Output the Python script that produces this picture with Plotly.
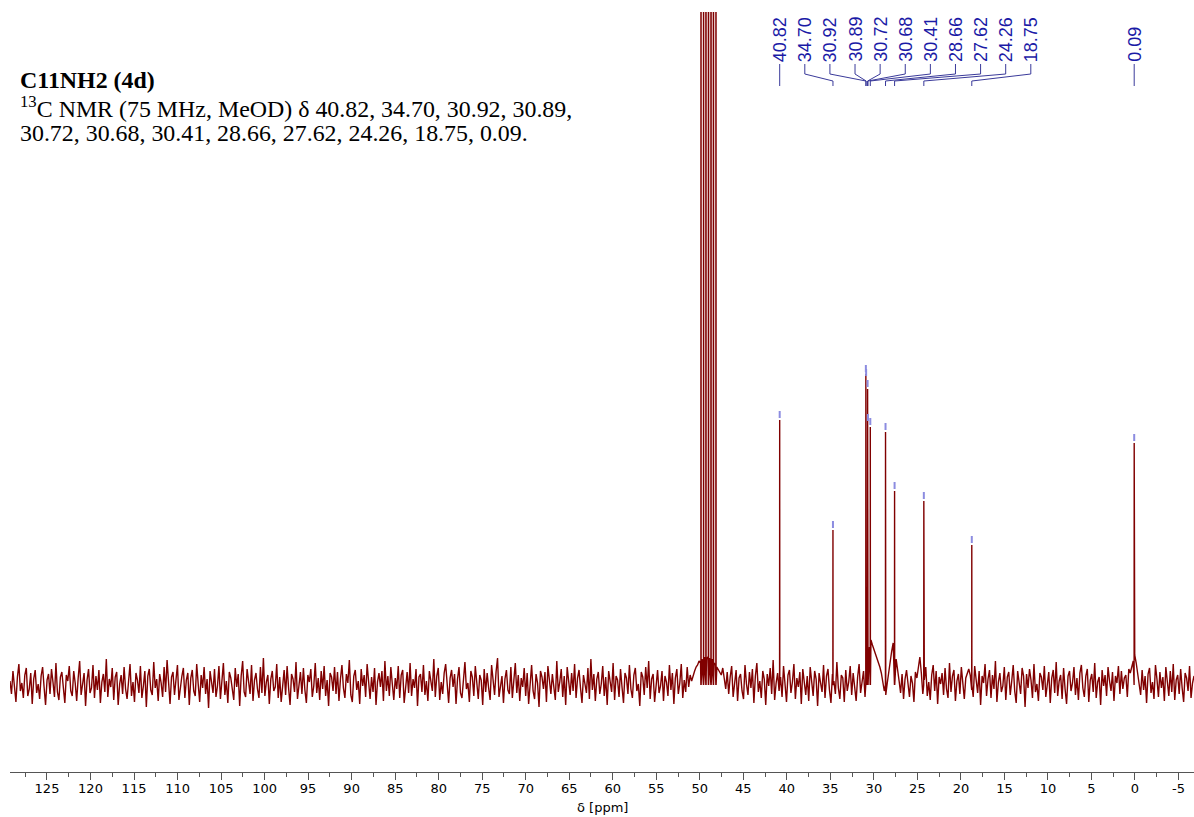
import numpy as np
import plotly.graph_objects as go

# ---------------- data ----------------
# hand-estimated baseline noise (intensity units, baseline = 0), read along the spectrum left->right
noise_vals = [
    4, -9, 14, -3, -17, 8, 21, -6, 2, -13, 10, 17, -11, -4, 12, -19, 6, 15, -8, 1,
    -14, 9, 18, -2, -20, 5, 11, -9, 16, 3, -12, 22, -7, -15, 8, 13, -3, -18, 10, 4,
    19, -6, -11, 14, 2, -16, 7, 24, -10, 0, 12, -21, 5, 16, -8, -3, 20, -13, 9, -5,
    15, -18, 3, 11, -7, 26, -12, 6, -2, 17, -15, 8, 13, -20, 1, 10, -9, 18, -4, -14,
    7, 21, -11, 3, -17, 12, 5, -8, 19, -13, -1, 14, -22, 9, 16, -5, -10, 23, -3, 6,
    -16, 11, 2, -12, 18, -7, 25, -4, -19, 8, 13, -10, 4, 20, -15, -2, 9, 17, -13, 5,
    12, -20, 7, 15, -6, -11, 21, 1, -17, 10, -3, 18, -9, 6, -23, 14, 3, -8, 16, -12,
    -1, 19, -14, 8, 22, -10, 4, -18, 13, 7, -5, -15, 17, -2, 11, -21, 9, 24, -7, -12,
    16, 2, -9, 20, -16, 5, 12, -4, -13, 18, -8, 27, -11, 3, 10, -19, 6, 14, -6, -2,
    21, -13, 8, -17, 4, 15, -10, 19, -3, -20, 11, 6, -7, 23, -14, 1, 13, -9, 17, -5,
    -18, 10, 3, 16, -12, -1, 22, -8, 7, -15, 14, -4, 19, -11, 5, -21, 12, 8, -6, 18,
    -9, 13, -16, 6, 20, -3, -13, 11, 2, 25, -10, -17, 9, 15, -5, 4, -19, 16, -1, 10,
    -12, 21, 5, -14, 8, -7, 17, -20, 3, 12, -2, 14, -16, 24, -6, 9, -11, 18, 1, -15,
    7, -4, 19, -13, 10, 15, -18, 2, 13, -8, 22, -11, 6, -3, 16, -21, 8, 11, -7, 20,
    -10, 4, -16, 14, 1, -6, 26, -12, 9, 17, -15, 3, -9, 12, 21, -5, -18, 7, 15, -2,
    11, -19, 6, 18, -8, -13, 9, 23, -4, 2, -17, 14, 8, -11, 19, -1, -14, 10, 5, -20,
    16, -7, 12, -3, -15, 20, 4, -10, 13, 27, -12, 1, 9, -18, 6, 15, -5, -9, 18, -13,
    3, 22, -8, 10, -16, 7, -2, 17, -11, 12, -19, 5, 20, -6, -14, 11, 2, -22, 14, 8,
    -4, 13, -17, 19, 6, -9, 11, -1, -15, 24, -7, 3, 16, -12, 9, -20, 18, 4, -10, 12,
    -6, 21, -13, 7, 15, -3, -18, 10, 2, -8, 17, -14, 26, -5, 11, -16, 6, 13, -9, 1,
    19, -11, 8, -20, 14, 3, -7, 22, -15, 9, 5, -12, 16, -2, -18, 12, 7, -9, 20, -4,
    -13, 10, 17, -6, 1, -21, 13, 8, -10, 18, -3, 24, -14, 6, 11, -17, 4, 15, -8, -1,
    14, -16, 9, 3, -11, 20, -5, 12, -19, 7, 16, -9, 2, 21, -13, 5, -7, 18, -2, 10,
    4, 10, 14, 18, 20, 24, 22, 26, 24, 28, 26, 28, 27, 25, 26, 22, 20, 18, 15, 12,
    10, 17, 6, -4, 13, -9, 8, 19, -12, 3, 15, -16, 7, 11, -6, -14, 20, 1, -10, 13,
    -3, 16, -18, 9, 22, -7, 4, -13, 14, 6, -20, 11, -1, 17, -9, 25, -15, 2, 12, -6,
    8, -12, 19, -4, -17, 10, 15, -8, 3, 21, -14, 7, -2, 13, -19, 16, 5, -10, 9, -16,
    18, -1, -11, 14, 6, -21, 12, 2, -7, 20, -13, 9, 16, -5, -18, 11, 4, -9, 23, -3,
    -14, 10, 7, -17, 15, -6, 3, 19, -10, 12, -2, -16, 8, 21, -8, 5, 14, -12, 6, 18,
    38, 45, 40, 36, 30, 27, 22, 18, 12, 4, -6, -10, 2, 14, 24, 34, 42, 36, 26, 12,
    4, -8, 11, -14, 6, 15, -3, -12, 9, 2, -17, 13, 7, 16, 28, 12, -9, 5, 18, -11,
    3, -15, 10, 20, -6, 14, -19, 8, 1, 12, -10, 17, -4, -13, 22, -7, 9, 15, -16, 4,
    11, -9, 18, -2, -14, 7, 13, 16, 10, -5, -12, 19, 5, -8, 14, -20, 9, 2, 21, -11,
    6, 15, -13, 10, -4, 24, -17, 3, 12, -7, -1, 18, -15, 8, 13, -10, 4, 20, -6, -18,
    14, 2, -9, 17, 9, -22, 11, -3, 16, 5, -13, 21, -7, 1, -16, 12, 8, -5, 19, -12,
    -2, 13, -18, 7, 15, -8, 23, -11, 4, 10, -14, 17, -4, -19, 9, 14, -6, 2, 18, -10,
    7, -15, 12, 20, -3, -12, 9, 16, -17, 5, 11, -7, 22, -13, 3, 8, -20, 15, -1, 10,
    -11, 18, 4, -6, 13, -16, 9, 2, 19, -9, 14, -4, 7, 10, -12, 16, 12, 18, 24, 30,
    22, 12, 4, -10, 15, -5, 9, -18, 11, 17, -8, 3, -14, 20, 6, -12, 13, -3, 8, -16,
    18, 1, -11, 14, -7, 21, -15, 5, 10, -9, 16, -3, -17, 12, 7, -6, 19, -13, 2, 9,
]
ppm_start, ppm_end = 129.25, -6.78   # spectral window shown

peak_ppm = [40.82, 34.70, 30.92, 30.89, 30.72, 30.68, 30.41, 28.66, 27.62, 24.26, 18.75, 0.09]
peak_int = [265, 155, 311, 307, 296, 262, 258, 253, 194, 184, 140, 242]
peak_labels = ["40.82", "34.70", "30.92", "30.89", "30.72", "30.68", "30.41",
               "28.66", "27.62", "24.26", "18.75", "0.09"]

solvent_ppm = [49.86, 49.57, 49.29, 49.00, 48.71, 48.43, 48.14]
solvent_int = [1500, 4500, 9000, 10500, 9000, 4500, 1500]

tick_vals = [125, 120, 115, 110, 105, 100, 95, 90, 85, 80, 75, 70, 65, 60,
             55, 50, 45, 40, 35, 30, 25, 20, 15, 10, 5, 0, -5]

title_line1 = "<b>C11NH2 (4d)</b>"
title_line2 = "<sup>13</sup>C NMR (75 MHz, MeOD) δ 40.82, 34.70, 30.92, 30.89,"
title_line3 = "30.72, 30.68, 30.41, 28.66, 27.62, 24.26, 18.75, 0.09."

# ---------------- build spectrum trace ----------------
noise_x = np.linspace(ppm_start, ppm_end, len(noise_vals))
pts = list(zip(noise_x.tolist(), noise_vals))
w = 0.012
for p, h in list(zip(peak_ppm, peak_int)) + list(zip(solvent_ppm, solvent_int)):
    pts += [(p + w, 0), (p, h), (p - w, 0)]
pts.sort(key=lambda t: -t[0])
spec_x = [t[0] for t in pts]
spec_y = [t[1] for t in pts]

# pixel helpers (intensity units == pixels, baseline at y=685 px)
BASE_PX = 685
def px2val(py):
    return BASE_PX - py

PX_PER_PPM = 8.7
slot_step = 25.1 / PX_PER_PPM

fig = go.Figure()
fig.add_trace(go.Scatter(x=spec_x, y=spec_y, mode="lines",
                         line=dict(color="#800000", width=1.4),
                         hoverinfo="skip", showlegend=False))

# peak pick markers
mx, my = [], []
for p, h in zip(peak_ppm, peak_int):
    mx += [p, p, None]
    my += [h + 2, h + 9, None]
fig.add_trace(go.Scatter(x=mx, y=my, mode="lines",
                         line=dict(color="#8c8ce0", width=2),
                         hoverinfo="skip", showlegend=False))

# label slots and leader lines
slots = [peak_ppm[0] - i * slot_step for i in range(len(peak_ppm) - 1)] + [peak_ppm[-1]]
lx, ly = [], []
for p, s in zip(peak_ppm, slots):
    lx += [s, s, p, p, None]
    ly += [px2val(64), px2val(74), px2val(81), px2val(86), None]
fig.add_trace(go.Scatter(x=lx, y=ly, mode="lines",
                         line=dict(color="#3a3a9a", width=1),
                         hoverinfo="skip", showlegend=False))

annotations = []
for s, lab in zip(slots, peak_labels):
    annotations.append(dict(x=s, y=px2val(64), xref="x", yref="y", text=lab,
                            textangle=-90, showarrow=False, xanchor="center",
                            yanchor="bottom",
                            font=dict(family="Liberation Sans", size=18, color="#1a1aa6")))

PLOT_L, PLOT_R, PLOT_T, PLOT_B = 10, 1194, 12, 772
def px_x(px):
    return (px - PLOT_L) / (PLOT_R - PLOT_L)
def px_y(py):
    return (PLOT_B - py) / (PLOT_B - PLOT_T)

for txt, yy in [(title_line1, 80), (title_line2, 107), (title_line3, 133)]:
    annotations.append(dict(x=px_x(18), y=px_y(yy), xref="paper", yref="paper", text=txt,
                            showarrow=False, xanchor="left", yanchor="middle",
                            font=dict(family="Liberation Serif", size=23.9, color="#000000")))

annotations.append(dict(x=0.5, y=px_y(807), xref="paper", yref="paper", text="δ [ppm]",
                        showarrow=False, xanchor="center", yanchor="middle",
                        font=dict(family="DejaVu Sans", size=13, color="#000000")))

fig.update_layout(
    width=1194, height=817, autosize=False,
    margin=dict(l=PLOT_L, r=1194 - PLOT_R, t=PLOT_T, b=817 - PLOT_B),
    paper_bgcolor="white", plot_bgcolor="white",
    annotations=annotations,
    xaxis=dict(range=[ppm_start, ppm_end], tickmode="array", tickvals=tick_vals,
               ticktext=[str(v) for v in tick_vals],
               ticks="outside", ticklen=7, tickcolor="#555555", tickwidth=1,
               showline=True, linecolor="#555555", linewidth=1,
               showgrid=False, zeroline=False,
               minor=dict(ticks="outside", ticklen=4, tickcolor="#555555",
                          tickmode="array",
                          tickvals=[v + 2.5 for v in tick_vals] + [-7.5]),
               tickfont=dict(family="DejaVu Sans", size=13, color="#000000"),
               ticklabelstandoff=-3),
    yaxis=dict(visible=False, range=[px2val(PLOT_B), px2val(PLOT_T)]),
)

fig.write_html("out.html")
